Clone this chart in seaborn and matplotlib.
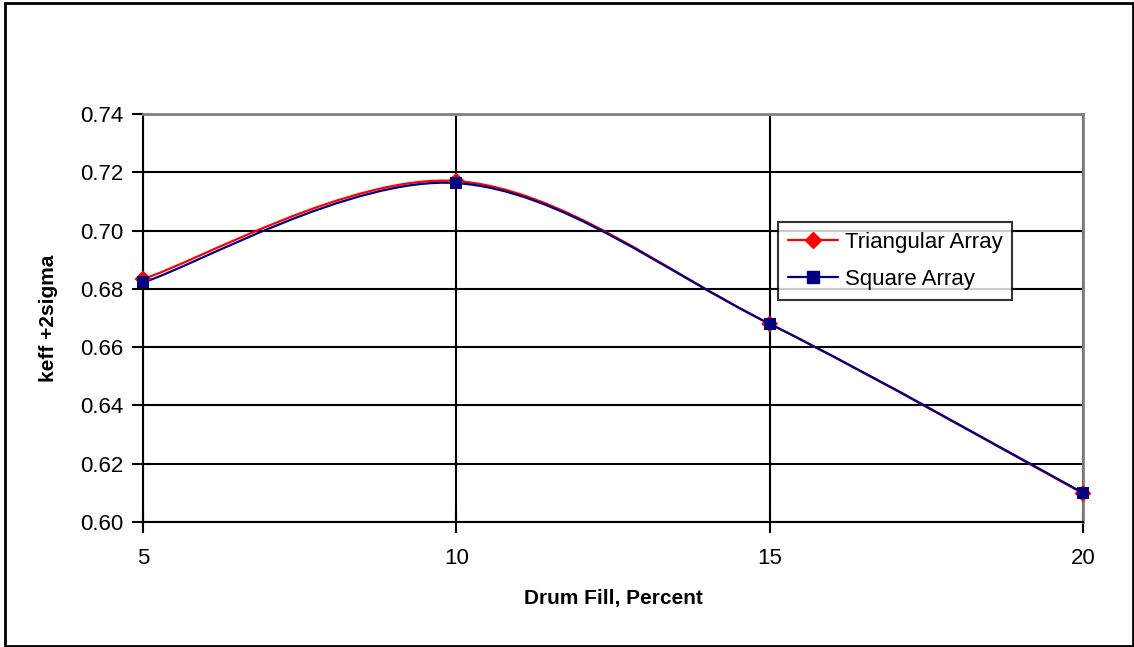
import matplotlib
matplotlib.use("Agg")
import matplotlib.pyplot as plt
from matplotlib.path import Path
from matplotlib.patches import PathPatch, Rectangle
from matplotlib.lines import Line2D
import seaborn as sns
import pandas as pd
import numpy as np

drum_fill = [5, 10, 15, 20]
triangular = [0.6834, 0.7170, 0.6680, 0.6098]
square = [0.6822, 0.7163, 0.6680, 0.6100]
series_names = ["Triangular Array", "Square Array"]
yticks = [0.60, 0.62, 0.64, 0.66, 0.68, 0.70, 0.72, 0.74]
xticks = [5, 10, 15, 20]

sns.set_theme(style="white")
plt.rcParams['font.family'] = ['Liberation Sans', 'DejaVu Sans']
plt.rcParams['text.color'] = 'black'
plt.rcParams['axes.labelcolor'] = 'black'
plt.rcParams['xtick.color'] = 'black'
plt.rcParams['ytick.color'] = 'black'

fig = plt.figure(figsize=(11.34, 6.47), dpi=100)
ax = fig.add_axes([143/1134, 1 - 522/647, (1083-143)/1134, (522-114)/647])

df = pd.DataFrame({
    "x": drum_fill * 2,
    "y": triangular + square,
    "series": [series_names[0]] * 4 + [series_names[1]] * 4,
})
colors = {series_names[0]: "#FF0000", series_names[1]: "#000080"}
markers = {series_names[0]: "D", series_names[1]: "s"}


def smooth_path(xs, ys):
    pts = np.column_stack([xs, ys]).astype(float)
    n = len(pts)
    verts = [pts[0]]
    codes = [Path.MOVETO]
    for i in range(n - 1):
        p0 = pts[i - 1] if i > 0 else pts[i]
        p1 = pts[i]
        p2 = pts[i + 1]
        p3 = pts[i + 2] if i + 2 < n else pts[i + 1]
        c1 = p1 + (p2 - p0) / 6.0
        c2 = p2 - (p3 - p1) / 6.0
        verts += [c1, c2, p2]
        codes += [Path.CURVE4] * 3
    return Path(verts, codes)


for name, vals in zip(series_names, [triangular, square]):
    ax.add_patch(PathPatch(smooth_path(drum_fill, vals), facecolor="none",
                           edgecolor=colors[name], lw=1.6, zorder=3,
                           clip_on=False))

sns.scatterplot(data=df, x="x", y="y", hue="series", style="series",
                palette=colors, markers=markers, s=[75], ax=ax,
                edgecolor="none", legend=False, zorder=4, clip_on=False)

ax.set_xlim(5, 20)
ax.set_ylim(0.60, 0.74)
ax.set_xticks(xticks)
ax.set_xticklabels([str(v) for v in xticks])
ax.set_yticks(yticks)
ax.set_yticklabels([f"{v:.2f}" for v in yticks])
ax.grid(True, color="black", lw=1.5)
ax.set_axisbelow(True)
for s in ["top", "right"]:
    ax.spines[s].set_color("#808080")
    ax.spines[s].set_linewidth(2)
for s in ["left", "bottom"]:
    ax.spines[s].set_color("black")
    ax.spines[s].set_linewidth(1.5)
ax.tick_params(axis="y", direction="out", length=8, width=1.5, color="black",
               labelsize=16, pad=6, left=True)
ax.tick_params(axis="x", direction="inout", length=16, width=1.5, color="black",
               labelsize=16, pad=11, bottom=True)
ax.set_xlabel("Drum Fill, Percent", fontsize=15, fontweight="bold", labelpad=14)
ax.set_ylabel("keff +2sigma", fontsize=15, fontweight="bold", labelpad=16)

handles = [Line2D([0], [0], color=colors[n], marker=markers[n], markersize=8,
                  lw=1.6, markeredgecolor=colors[n]) for n in series_names]
leg = ax.legend(handles, series_names, loc="upper left",
                bbox_to_anchor=((778-143)/940, 1 - (222-114)/408),
                frameon=True, fancybox=False, edgecolor="black", fontsize=16,
                handlelength=2.25, borderpad=0.45, labelspacing=0.7,
                handletextpad=0.3, borderaxespad=0)
leg.get_frame().set_linewidth(1.5)

fig.patches.append(Rectangle((5/1134, 1/647), (1133-5)/1134, (644-1)/647,
                             transform=fig.transFigure, fill=False,
                             edgecolor="black", lw=2))

fig.savefig("out.png", dpi=100)
